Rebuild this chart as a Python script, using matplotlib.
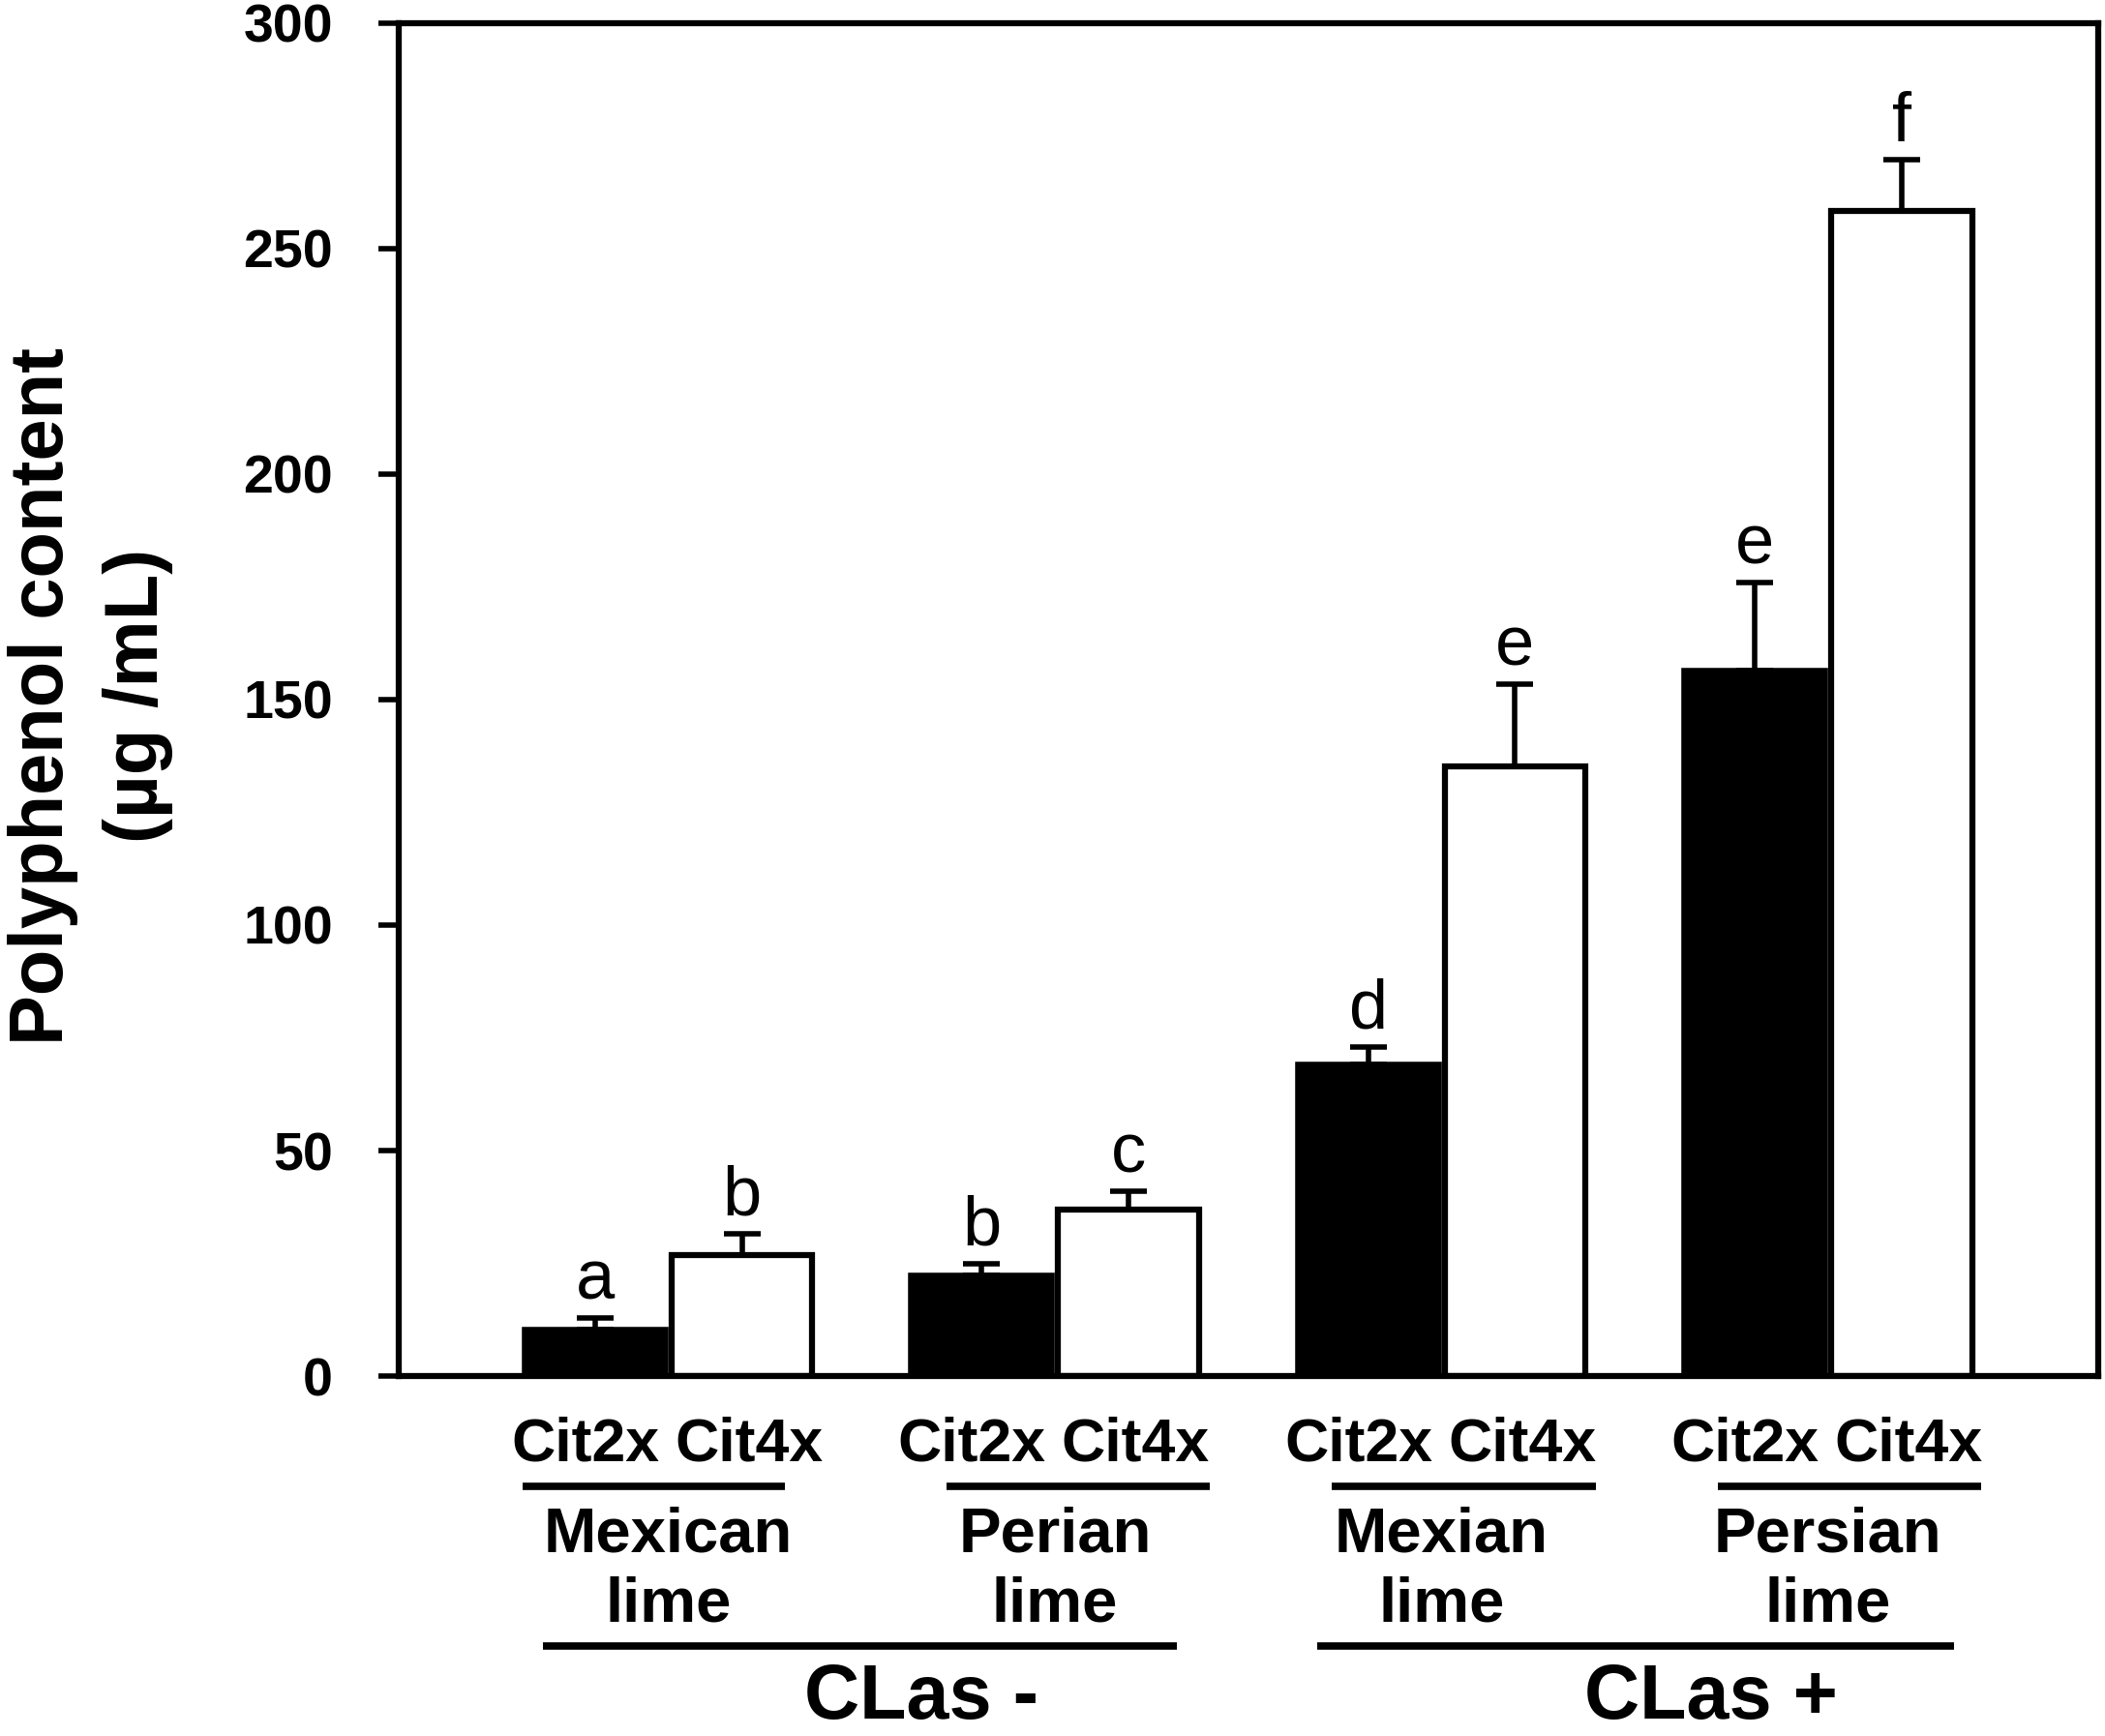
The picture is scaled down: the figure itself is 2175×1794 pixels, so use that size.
import matplotlib
matplotlib.use('Agg')
import matplotlib.pyplot as plt
import numpy as np

plt.rcParams['font.family'] = ['Liberation Sans', 'DejaVu Sans']

# values
groups = ['Mexican\nlime', 'Perian\nlime', 'Mexian\nlime', 'Persian\nlime']
genotypes = ['Cit2x', 'Cit4x']
cit2x_mean = [10.4, 22.3, 69.0, 156.3]
cit2x_err = [2.4, 2.7, 3.9, 19.6]
cit4x_mean = [26.8, 37.0, 135.2, 258.3]
cit4x_err = [4.7, 3.9, 18.2, 11.3]
cit2x_letters = ['a', 'b', 'd', 'e']
cit4x_letters = ['b', 'c', 'e', 'f']
infection = ['CLas -', 'CLas +']
yticks = [0, 50, 100, 150, 200, 250, 300]

fig = plt.figure(figsize=(21.75, 17.94), dpi=100)
ax = fig.add_axes([0.1894, 0.2073, 0.8076, 0.7796])

x = np.arange(len(groups))
w = 0.365
off = 0.19

ax.errorbar(x - off, cit2x_mean, yerr=[np.zeros(4), cit2x_err], fmt='none',
            ecolor='black', elinewidth=4, capsize=14, capthick=4, zorder=1)
ax.errorbar(x + off, cit4x_mean, yerr=[np.zeros(4), cit4x_err], fmt='none',
            ecolor='black', elinewidth=4, capsize=14, capthick=4, zorder=1)
ax.bar(x - off, cit2x_mean, w, color='black', edgecolor='black', linewidth=4, zorder=2)
ax.bar(x + off, cit4x_mean, w, color='white', edgecolor='black', linewidth=4.5, zorder=2)

for i in range(len(groups)):
    ax.annotate(cit2x_letters[i], (x[i] - off, cit2x_mean[i] + cit2x_err[i]),
                xytext=(0, 14), textcoords='offset points', ha='center', va='baseline',
                fontsize=52)
    ax.annotate(cit4x_letters[i], (x[i] + off, cit4x_mean[i] + cit4x_err[i]),
                xytext=(0, 14), textcoords='offset points', ha='center', va='baseline',
                fontsize=52)

ax.set_xlim(-0.698, 3.70)
ax.set_ylim(0, 300)
ax.set_yticks(yticks)
ax.set_xticks([])
for lbl in ax.get_yticklabels():
    lbl.set_fontweight('bold')
ax.tick_params(axis='y', labelsize=40, length=15, width=4, pad=34, direction='out')
for s in ax.spines.values():
    s.set_linewidth(4.5)

fig.text(0.043, 0.599, 'Polyphenol content\n(\u00b5g /mL)', rotation=90, ha='center',
         va='center', fontsize=56, fontweight='bold', linespacing=1.45,
         multialignment='center')

tr = ax.get_xaxis_transform()
line_left = [-0.378, -0.28, -0.285, -0.285]
line_right = [0.302, 0.40, 0.399, 0.396]
for i in range(len(groups)):
    ax.text(x[i] - 0.215, -0.0625, genotypes[0], transform=tr, ha='center',
            va='baseline', fontsize=45, fontweight='bold')
    ax.text(x[i] + 0.208, -0.0625, genotypes[1], transform=tr, ha='center',
            va='baseline', fontsize=45, fontweight='bold')
    ax.plot([x[i] + line_left[i], x[i] + line_right[i]], [-0.0813, -0.0813],
            transform=tr, color='black', lw=5.5, clip_on=False, solid_capstyle='butt')
    name, sub = groups[i].split('\n')
    ax.text(x[i], -0.130, name, transform=tr, ha='center', va='baseline',
            fontsize=47, fontweight='bold')
    ax.text(x[i], -0.181, sub, transform=tr, ha='center', va='baseline',
            fontsize=47, fontweight='bold')

big_lines = [(-0.326, 1.316), (1.677, 3.326)]
big_text_x = [0.653, 2.698]
for (a, b), tx, lab in zip(big_lines, big_text_x, infection):
    ax.plot([a, b], [-0.1994, -0.1994], transform=tr, color='black', lw=5.5,
            clip_on=False, solid_capstyle='butt')
    ax.text(tx, -0.253, lab, transform=tr, ha='center', va='baseline',
            fontsize=57, fontweight='bold')

fig.savefig('out.png', dpi=100)
